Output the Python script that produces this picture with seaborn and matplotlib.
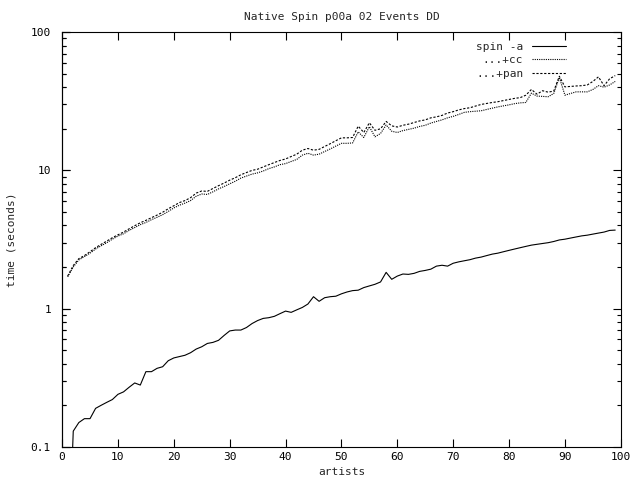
import numpy as np
import pandas as pd
import matplotlib
matplotlib.use("Agg")
import matplotlib.pyplot as plt
from matplotlib.ticker import LogLocator, NullFormatter, FuncFormatter, MultipleLocator
import seaborn as sns

# data (artists 1..99)
artists = list(range(1, 100))

spin_a = [0.01, 0.13, 0.15, 0.16, 0.16, 0.19, 0.20, 0.21, 0.22, 0.24,
          0.25, 0.27, 0.29, 0.28, 0.35, 0.35, 0.37, 0.38, 0.42, 0.44,
          0.45, 0.46, 0.48, 0.51, 0.53, 0.56, 0.57, 0.59, 0.64, 0.69,
          0.70, 0.70, 0.73, 0.78, 0.82, 0.85, 0.86, 0.88, 0.92, 0.96,
          0.94, 0.98, 1.02, 1.08, 1.22, 1.13, 1.20, 1.22, 1.23, 1.28,
          1.32, 1.35, 1.36, 1.42, 1.46, 1.50, 1.56, 1.83, 1.63, 1.72,
          1.78, 1.77, 1.80, 1.86, 1.89, 1.93, 2.03, 2.06, 2.03, 2.13,
          2.18, 2.22, 2.26, 2.32, 2.36, 2.42, 2.48, 2.52, 2.58, 2.64,
          2.70, 2.76, 2.82, 2.88, 2.92, 2.96, 3.00, 3.06, 3.14, 3.18,
          3.24, 3.30, 3.36, 3.40, 3.46, 3.52, 3.58, 3.68, 3.70]

plus_cc = [1.70, 2.00, 2.25, 2.38, 2.52, 2.70, 2.85, 3.00, 3.18, 3.35,
           3.48, 3.68, 3.86, 4.05, 4.20, 4.40, 4.58, 4.78, 5.05, 5.35,
           5.60, 5.80, 6.05, 6.50, 6.75, 6.70, 7.00, 7.35, 7.65, 8.00,
           8.35, 8.80, 9.10, 9.40, 9.60, 9.90, 10.3, 10.6, 11.0, 11.2,
           11.6, 12.0, 12.9, 13.3, 12.9, 13.1, 13.7, 14.3, 15.0, 15.7,
           15.7, 15.8, 19.0, 17.3, 20.7, 17.5, 18.5, 21.3, 19.2, 18.8,
           19.4, 19.8, 20.2, 20.8, 21.2, 22.0, 22.6, 23.2, 24.0, 24.6,
           25.4, 26.3, 26.6, 26.8, 27.0, 27.6, 28.2, 28.8, 29.3, 29.8,
           30.4, 30.8, 31.0, 36.2, 34.5, 34.3, 34.1, 36.0, 47.0, 35.0,
           36.0, 37.0, 37.0, 37.0, 38.5, 41.0, 40.0, 41.5, 44.0]

plus_pan = [1.72, 2.05, 2.30, 2.42, 2.58, 2.76, 2.92, 3.08, 3.26, 3.42,
            3.58, 3.78, 3.98, 4.18, 4.35, 4.55, 4.75, 4.98, 5.28, 5.55,
            5.85, 6.05, 6.35, 6.85, 7.10, 7.05, 7.40, 7.75, 8.10, 8.50,
            8.85, 9.30, 9.65, 10.0, 10.2, 10.6, 11.0, 11.4, 11.8, 12.1,
            12.6, 13.1, 14.0, 14.4, 14.0, 14.2, 14.9, 15.6, 16.4, 17.2,
            17.2, 17.3, 20.9, 18.8, 22.1, 19.5, 20.0, 22.6, 21.0, 20.6,
            21.2, 21.6, 22.2, 22.8, 23.2, 24.0, 24.4, 25.0, 26.0, 26.6,
            27.4, 28.0, 28.4, 29.2, 30.0, 30.5, 31.0, 31.4, 32.0, 32.6,
            33.2, 33.6, 35.0, 38.5, 35.6, 37.7, 36.8, 37.5, 48.0, 40.2,
            40.5, 40.8, 41.0, 41.5, 44.0, 47.5, 41.0, 46.0, 48.5]

series_names = ["spin -a", "...+cc", "...+pan"]

df = pd.DataFrame({"artists": artists, "spin -a": spin_a,
                   "...+cc": plus_cc, "...+pan": plus_pan})

sns.set_style("ticks", {"xtick.direction": "in", "ytick.direction": "in",
                        "xtick.top": True, "ytick.right": True})
plt.rcParams.update({
    'font.family': ['DejaVu Sans Mono'],
    'xtick.major.size': 6, 'ytick.major.size': 6,
    'xtick.minor.size': 3, 'ytick.minor.size': 3,
    'xtick.major.width': 0.8, 'ytick.major.width': 0.8,
    'ytick.minor.width': 0.8,
    'ytick.major.pad': 8, 'ytick.minor.pad': 8,
    'xtick.labelsize': 8, 'ytick.labelsize': 8,
    'xtick.color': 'black', 'ytick.color': 'black',
    'ytick.minor.left': True, 'ytick.minor.right': True,
})

fig = plt.figure(figsize=(6.4, 4.8), dpi=100)
ax = fig.add_axes([0.097, 0.069, 0.873, 0.864])

# gnuplot-ish line types: solid, fine dots, short dashes
styles = {"spin -a": "-", "...+cc": (0, (1, 1)), "...+pan": (0, (2, 1.5))}
for name in series_names:
    sns.lineplot(data=df, x="artists", y=name, ax=ax, color="black",
                 linewidth=0.8, linestyle=styles[name], label=name)

ax.set_yscale("log")
ax.set_xlim(0, 100)
ax.set_ylim(0.1, 100)
ax.xaxis.set_major_locator(MultipleLocator(10))
ax.yaxis.set_major_locator(LogLocator(base=10))
ax.yaxis.set_major_formatter(FuncFormatter(lambda v, p: f"{v:g}"))
ax.yaxis.set_minor_locator(LogLocator(base=10, subs=np.arange(2, 10)))
ax.yaxis.set_minor_formatter(NullFormatter())
for s in ax.spines.values():
    s.set_color("black")
    s.set_linewidth(0.8)

# extra left axis that only carries the small inner ticks
sec = ax.secondary_yaxis("left")
sec.set_yscale("log")
sec.yaxis.set_major_locator(LogLocator(base=10))
sec.yaxis.set_major_formatter(NullFormatter())
sec.yaxis.set_minor_locator(LogLocator(base=10, subs=np.arange(2, 10)))
sec.yaxis.set_minor_formatter(NullFormatter())
sec.tick_params(which="both", direction="in", color="black", width=0.8)
sec.tick_params(which="minor", length=3)
sec.tick_params(which="major", length=6)
sec.spines["left"].set_linewidth(0.8)

ax.set_xlabel("artists", fontsize=8, labelpad=4)
ax.set_ylabel("time (seconds)", fontsize=8, labelpad=10)
ax.set_title("Native Spin p00a 02 Events DD", fontsize=8, pad=9)

ax.legend(loc="upper right", bbox_to_anchor=(0.915, 0.995), frameon=False,
          markerfirst=False, fontsize=8, handlelength=3, labelspacing=0.3,
          borderaxespad=0.3)

fig.savefig("out.png", dpi=100)
